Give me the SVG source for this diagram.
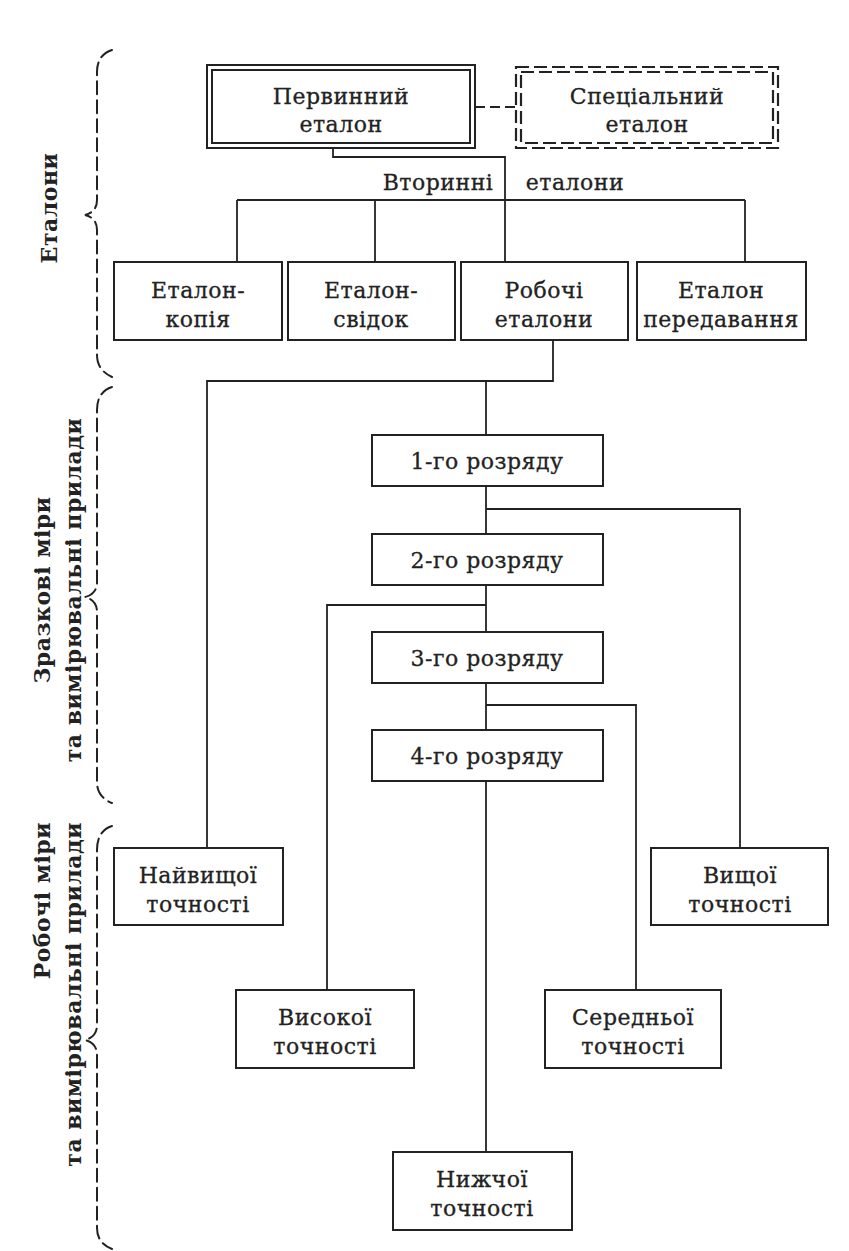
<svg xmlns="http://www.w3.org/2000/svg" width="849" height="1251" viewBox="0 0 849 1251">
<style>
.box{fill:#fff;stroke:#222;stroke-width:2}
.dbox{fill:none;stroke:#222;stroke-width:2.2;stroke-dasharray:13 5}
.ln{fill:none;stroke:#222;stroke-width:1.8}
.br{fill:none;stroke:#222;stroke-width:2;stroke-dasharray:13 6;stroke-linecap:round}
.t{font-family:"DejaVu Serif","Liberation Serif",serif;font-size:22px;fill:#222;stroke:#222;stroke-width:0.3;text-anchor:middle;letter-spacing:0.5px}
.s{font-family:"DejaVu Serif","Liberation Serif",serif;font-size:22px;font-weight:bold;fill:#222;letter-spacing:0.5px}
</style>
<rect width="849" height="1251" fill="#fff"/>
<g id="connectors">
<line class="ln" x1="475" y1="107" x2="516" y2="107" stroke-dasharray="10 5"/>
<polyline class="ln" points="333,148 333,157 505,157 505,200"/>
<line class="ln" x1="237" y1="200" x2="745" y2="200"/>
<line class="ln" x1="237" y1="200" x2="237" y2="262"/>
<line class="ln" x1="375" y1="200" x2="375" y2="262"/>
<line class="ln" x1="505" y1="200" x2="505" y2="262"/>
<line class="ln" x1="745" y1="200" x2="745" y2="262"/>
<polyline class="ln" points="553,340 553,381 207,381 207,848"/>
<line class="ln" x1="486" y1="381" x2="486" y2="1152"/>
<polyline class="ln" points="486,509 740,509 740,848"/>
<polyline class="ln" points="486,605 327,605 327,990"/>
<polyline class="ln" points="486,705 636,705 636,990"/>
</g>
<g id="braces">
<path class="br" d="M112,50 Q97,55 97,72 L97,200 Q97,212 85,215 Q97,218 97,230 L97,355 Q97,370 112,377"/>
<path class="br" d="M112,387 Q97,392 97,410 L97,582 Q97,594 85,597 Q97,600 97,612 L97,782 Q97,797 112,803"/>
<path class="br" d="M112,826 Q97,831 97,850 L97,1025 Q97,1037 85,1040 Q97,1043 97,1055 L97,1228 Q97,1243 112,1249"/>
</g>
<g id="label-etalony"><text class="s" transform="translate(57,208) rotate(-90)" text-anchor="middle">Еталони</text></g>
<g id="label-zrazkovi">
<text class="s" transform="translate(50,590) rotate(-90)" text-anchor="middle">Зразкові міри</text>
<text class="s" transform="translate(81,590) rotate(-90)" text-anchor="middle">та вимірювальні прилади</text>
</g>
<g id="label-robochi">
<text class="s" transform="translate(50,822) rotate(-90)" text-anchor="end">Робочі міри</text>
<text class="s" transform="translate(81,822) rotate(-90)" text-anchor="end">та вимірювальні прилади</text>
</g>
<g id="n-pervynnyi">
<rect class="box" x="207" y="65" width="268" height="83"/>
<rect class="box" x="212" y="70" width="258" height="73"/>
<text class="t" x="341" y="104">Первинний</text><text class="t" x="341" y="132">еталон</text>
</g>
<g id="n-spetsialnyi">
<rect class="dbox" x="516" y="67" width="262" height="81"/>
<rect class="dbox" x="521" y="72" width="252" height="71"/>
<text class="t" x="647" y="104">Спеціальний</text><text class="t" x="647" y="132">еталон</text>
</g>
<g id="n-vtorynni"><text class="t" x="438" y="190">Вторинні</text><text class="t" x="575" y="190">еталони</text></g>
<g id="n-kopiia"><rect class="box" x="114" y="262" width="168" height="78"/><text class="t" x="198" y="298">Еталон-</text><text class="t" x="198" y="327">копія</text></g>
<g id="n-svidok"><rect class="box" x="288" y="262" width="167" height="78"/><text class="t" x="371" y="298">Еталон-</text><text class="t" x="371" y="327">свідок</text></g>
<g id="n-robochi"><rect class="box" x="461" y="262" width="167" height="78"/><text class="t" x="544" y="298">Робочі</text><text class="t" x="544" y="327">еталони</text></g>
<g id="n-peredavannia"><rect class="box" x="637" y="262" width="169" height="78"/><text class="t" x="721" y="298">Еталон</text><text class="t" x="721" y="327">передавання</text></g>
<g id="n-r1"><rect class="box" x="372" y="435" width="231" height="51"/><text class="t" x="487" y="469">1-го розряду</text></g>
<g id="n-r2"><rect class="box" x="372" y="534" width="231" height="51"/><text class="t" x="487" y="568">2-го розряду</text></g>
<g id="n-r3"><rect class="box" x="372" y="632" width="231" height="51"/><text class="t" x="487" y="666">3-го розряду</text></g>
<g id="n-r4"><rect class="box" x="372" y="730" width="231" height="51"/><text class="t" x="487" y="764">4-го розряду</text></g>
<g id="n-naivyshchoi"><rect class="box" x="114" y="848" width="169" height="77"/><text class="t" x="198" y="883">Найвищої</text><text class="t" x="198" y="912">точності</text></g>
<g id="n-vyshchoi"><rect class="box" x="651" y="848" width="177" height="77"/><text class="t" x="740" y="883">Вищої</text><text class="t" x="740" y="912">точності</text></g>
<g id="n-vysokoi"><rect class="box" x="236" y="990" width="178" height="78"/><text class="t" x="325" y="1025">Високої</text><text class="t" x="325" y="1054">точності</text></g>
<g id="n-serednoi"><rect class="box" x="545" y="990" width="176" height="78"/><text class="t" x="633" y="1025">Середньої</text><text class="t" x="633" y="1054">точності</text></g>
<g id="n-nyzhchoi"><rect class="box" x="393" y="1152" width="179" height="78"/><text class="t" x="482" y="1187">Нижчої</text><text class="t" x="482" y="1216">точності</text></g>
</svg>
